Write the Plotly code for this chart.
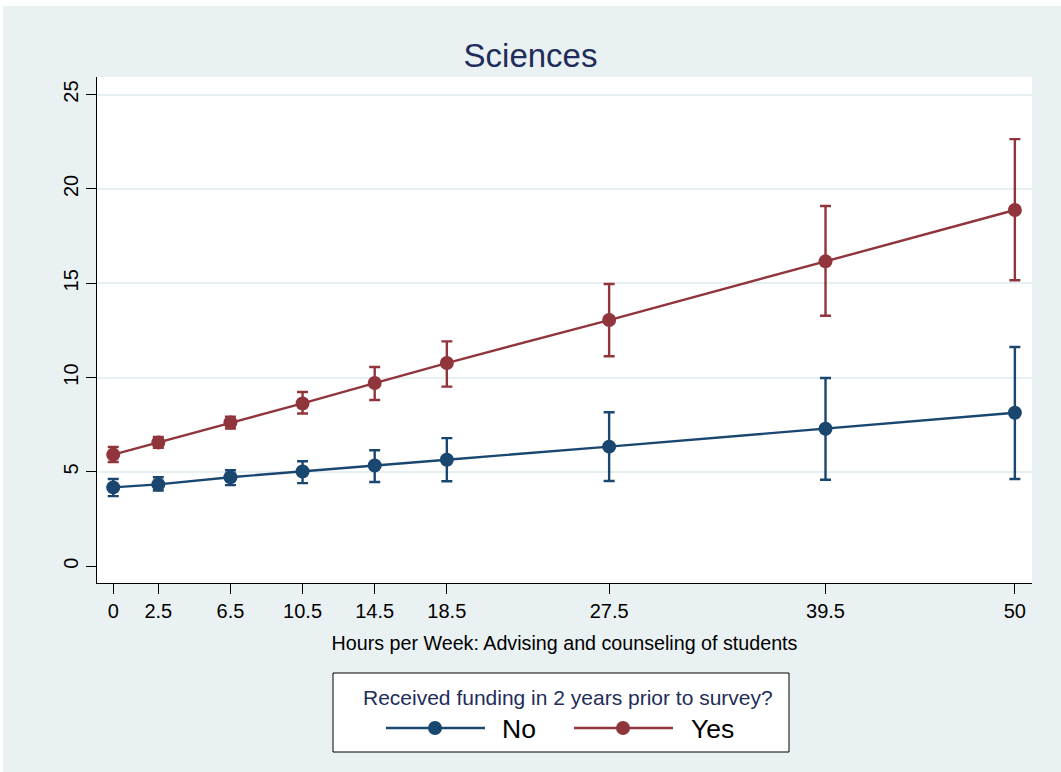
import plotly.graph_objects as go

# ---- data ----
hours = [0, 2.5, 6.5, 10.5, 14.5, 18.5, 27.5, 39.5, 50]
x_tick_labels = ["0", "2.5", "6.5", "10.5", "14.5", "18.5", "27.5", "39.5", "50"]
y_ticks = [0, 5, 10, 15, 20, 25]

no_mean = [4.18, 4.34, 4.72, 5.02, 5.34, 5.65, 6.34, 7.29, 8.14]
no_lo = [3.72, 4.02, 4.30, 4.41, 4.47, 4.51, 4.52, 4.59, 4.63]
no_hi = [4.63, 4.72, 5.09, 5.57, 6.15, 6.79, 8.16, 9.98, 11.62]

yes_mean = [5.92, 6.56, 7.62, 8.63, 9.71, 10.77, 13.05, 16.16, 18.88]
yes_lo = [5.53, 6.28, 7.30, 8.10, 8.81, 9.52, 11.13, 13.28, 15.16]
yes_hi = [6.32, 6.86, 7.93, 9.24, 10.56, 11.92, 14.96, 19.09, 22.64]

series_names = ["No", "Yes"]
legend_title = "Received funding in 2 years prior to survey?"
chart_title = "Sciences"
x_title = "Hours per Week: Advising and counseling of students"

NAVY = "#1A476F"
MAROON = "#90353B"
BG = "#EAF1F3"
TITLE_COLOR = "#1E2D5A"
FONT = "Liberation Sans, Arial"

W, H = 1061, 772
L, R, T, B = 97, 1032, 77, 583  # plot area pixel box


def px(x):
    return (x - L) / (R - L)


def py(y):
    return (B - y) / (B - T)


fig = go.Figure()
for name, mean, lo, hi, col in [
    (series_names[0], no_mean, no_lo, no_hi, NAVY),
    (series_names[1], yes_mean, yes_lo, yes_hi, MAROON),
]:
    fig.add_trace(go.Scatter(
        x=hours, y=mean, name=name, mode="lines+markers",
        line=dict(color=col, width=2.4),
        marker=dict(color=col, size=14),
        error_y=dict(type="data", symmetric=False,
                     array=[h - m for h, m in zip(hi, mean)],
                     arrayminus=[m - l for m, l in zip(mean, lo)],
                     color=col, thickness=2.4, width=5.5),
        showlegend=False,
    ))

shapes = []
# outer light background (white sliver at top/left like reference)
shapes.append(dict(type="rect", xref="paper", yref="paper", layer="below",
                   x0=px(3), x1=px(W + 5), y0=py(6), y1=py(H + 5),
                   fillcolor=BG, line=dict(width=0)))
# white plot region
shapes.append(dict(type="rect", xref="paper", yref="paper", layer="below",
                   x0=0, x1=1, y0=0, y1=1,
                   fillcolor="white", line=dict(width=0)))
# legend box
shapes.append(dict(type="rect", xref="paper", yref="paper",
                   x0=px(333), x1=px(789), y0=py(673), y1=py(752),
                   fillcolor="white", line=dict(color="black", width=1)))
annotations = [
    dict(text=legend_title, xref="paper", yref="paper", x=px(568), y=py(697),
         showarrow=False, font=dict(size=21, color=TITLE_COLOR, family=FONT),
         xanchor="center", yanchor="middle"),
]
for (lx0, lx1, mx, tx, col, name) in [
    (386, 485, 435, 500, NAVY, series_names[0]),
    (574, 673, 623, 689, MAROON, series_names[1]),
]:
    shapes.append(dict(type="line", xref="paper", yref="paper",
                       x0=px(lx0), x1=px(lx1), y0=py(728), y1=py(728),
                       line=dict(color=col, width=2.4)))
    shapes.append(dict(type="circle", xref="paper", yref="paper",
                       x0=px(mx - 7), x1=px(mx + 7), y0=py(735), y1=py(721),
                       fillcolor=col, line=dict(color=col, width=0)))
    annotations.append(dict(text=name, xref="paper", yref="paper",
                            x=px(tx), y=py(729), showarrow=False,
                            xanchor="left", yanchor="middle",
                            font=dict(size=26.5, color="black", family=FONT)))

fig.update_layout(
    width=W, height=H,
    margin=dict(l=L, r=W - R, t=T, b=H - B, pad=0),
    paper_bgcolor="white", plot_bgcolor="white",
    font=dict(family=FONT, color="black", size=20),
    title=dict(text=chart_title, x=0.5, xref="container", xanchor="center",
               y=1 - 55 / H, yanchor="middle",
               font=dict(size=33, color=TITLE_COLOR, family=FONT)),
    xaxis=dict(range=[-0.9, 50.95], tickmode="array", tickvals=hours,
               ticktext=x_tick_labels, showgrid=False, zeroline=False,
               showline=True, linecolor="black", linewidth=1.3,
               ticks="outside", ticklen=10, tickwidth=1.3, tickcolor="black",
               tickfont=dict(size=20),
               title=dict(text=x_title, font=dict(size=19.7), standoff=15)),
    yaxis=dict(range=[-0.885, 25.93], tickmode="array", tickvals=y_ticks,
               showgrid=True, gridcolor="#E6EFF1", gridwidth=2,
               zeroline=True, zerolinecolor="white", zerolinewidth=3,
               showline=True, linecolor="black", linewidth=1.3,
               ticks="outside", ticklen=10, tickwidth=1.3, tickcolor="black",
               tickangle=-90, tickfont=dict(size=20)),
    shapes=shapes, annotations=annotations, showlegend=False,
)

fig.write_html("out.html", config={"displayModeBar": False},
               post_script="document.body.style.margin='0';")
